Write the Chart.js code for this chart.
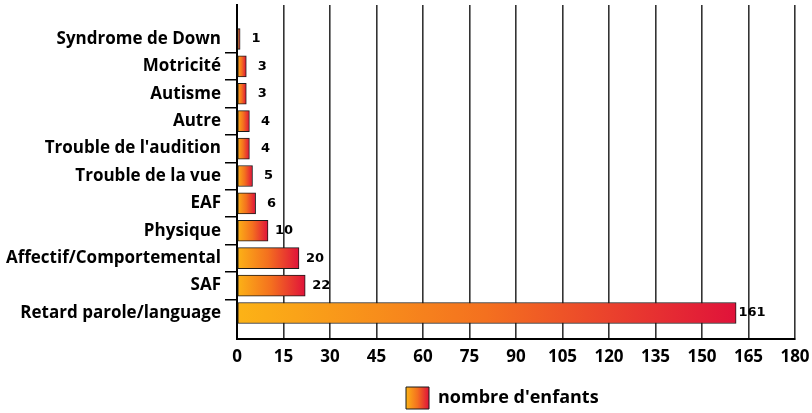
<!DOCTYPE html>
<html lang="fr">
<head>
<meta charset="utf-8">
<title>Nombre d'enfants par type de besoin</title>
<script src="https://cdn.jsdelivr.net/npm/chart.js@4.4.1/dist/chart.umd.min.js"></script>
<style>
    html, body { margin: 0; padding: 0; background: #fff; }
    #wrap { width: 812px; height: 413px; }
</style>
</head>
<body>
<div id="wrap"><canvas id="chart" width="812" height="413"></canvas></div>
<script>
// ===== Data =====
const categories = [
    'Syndrome de Down',
    'Motricité',
    'Autisme',
    'Autre',
    "Trouble de l'audition",
    'Trouble de la vue',
    'EAF',
    'Physique',
    'Affectif/Comportemental',
    'SAF',
    'Retard parole/language'
];
const enfants = [1, 3, 3, 4, 4, 5, 6, 10, 20, 22, 161];
const seriesLabel = "nombre d'enfants";
const xTicks = { min: 0, max: 180, step: 15 };

const FONT = "'Open Sans', 'DejaVu Sans', sans-serif";

// orange -> red fill, stretched over one bar
function fillGradient(ctx2d, x0, x1) {
    const g = ctx2d.createLinearGradient(x0, 0, x1, 0);
    g.addColorStop(0, '#fcb316');
    g.addColorStop(0.5, '#f4701f');
    g.addColorStop(1, '#e0123a');
    return g;
}

function barFill(context) {
    const chart = context.chart;
    const xScale = chart.scales.x;
    if (!chart.chartArea || !xScale || context.type !== 'data') return '#f4701f';
    const x0 = xScale.getPixelForValue(0);
    const x1 = xScale.getPixelForValue(context.parsed.x);
    return fillGradient(chart.ctx, x0, Math.max(x1, x0 + 1));
}

// ===== Value labels right of each bar =====
const valueLabels = {
    id: 'valueLabels',
    afterDatasetsDraw(chart) {
        const ctx = chart.ctx;
        const meta = chart.getDatasetMeta(0);
        ctx.save();
        ctx.font = "bold 13px 'DejaVu Sans', sans-serif";
        ctx.fillStyle = '#000';
        ctx.textAlign = 'center';
        ctx.textBaseline = 'middle';
        meta.data.forEach((bar, i) => {
            ctx.fillText(String(enfants[i]), bar.x + 16, bar.y);
        });
        ctx.restore();
    }
};

// ===== Legend placement + gradient swatch =====
const LEGEND_BOX_LEFT = 406;
const legendTweak = {
    id: 'legendTweak',
    afterLayout(chart) {
        const lg = chart.legend;
        if (!lg || !lg.lineWidths) return;
        const pad = lg.options.labels.padding;
        const startX = (lg.left + pad + lg.right - lg.lineWidths[0]) / 2;
        const dx = LEGEND_BOX_LEFT - startX;
        lg.left += dx; lg.right += dx;
        lg.top += 6; lg.bottom += 6;
    },
    beforeDraw(chart) {
        const lg = chart.legend;
        if (!lg || !lg.legendItems || !lg.legendHitBoxes || !lg.legendHitBoxes[0]) return;
        const hb = lg.legendHitBoxes[0];
        lg.legendItems[0].fillStyle = fillGradient(chart.ctx, hb.left, hb.left + 23);
    }
};

const chart = new Chart(document.getElementById('chart'), {
    type: 'bar',
    data: {
        datasets: [{
            label: seriesLabel,
            data: enfants.map((v, i) => ({ x: v, y: i })),
            backgroundColor: barFill,
            borderColor: '#1a1a1a',
            borderWidth: 1,
            borderSkipped: false,
            barThickness: 21
        }]
    },
    options: {
        indexAxis: 'y',
        responsive: false,
        animation: false,
        layout: { padding: { top: 5, right: 17, bottom: 0, left: 0 } },
        scales: {
            x: {
                type: 'linear',
                min: xTicks.min,
                max: xTicks.max,
                afterFit(scale) {
                    scale.height = 32;
                    scale.paddingLeft = 0;
                    scale.paddingRight = 0;
                },
                grid: { color: '#333', lineWidth: 1.6, drawTicks: false },
                border: { color: '#000', width: 2 },
                ticks: {
                    stepSize: xTicks.step,
                    color: '#000',
                    padding: 8,
                    font: { family: FONT, size: 17, weight: 'bold' }
                }
            },
            y: {
                type: 'linear',
                reverse: true,
                offset: false,
                min: -1.24,
                max: 10.95,
                afterFit(scale) {
                    scale.width = 237;
                    scale.paddingTop = 0;
                    scale.paddingBottom = 0;
                },
                afterBuildTicks(scale) {
                    scale.ticks = categories.map((_, i) => ({ value: i }));
                },
                grid: {
                    offset: true,
                    drawOnChartArea: false,
                    tickLength: 12,
                    lineWidth: 1.5,
                    // only the marks between two categories
                    color: c => (c.index > 0 ? '#000' : 'rgba(0,0,0,0)')
                },
                border: { color: '#000', width: 2 },
                ticks: {
                    color: '#000',
                    padding: 4,
                    autoSkip: false,
                    font: { family: FONT, size: 17, weight: 'bold' },
                    callback: value => categories[value]
                }
            }
        },
        plugins: {
            legend: {
                position: 'bottom',
                fullSize: false,
                labels: {
                    color: '#000',
                    boxWidth: 23,
                    boxHeight: 22,
                    padding: 10,
                    font: { family: FONT, size: 18, weight: 'bold' },
                    generateLabels: () => [{
                        text: seriesLabel,
                        fillStyle: '#f4701f',
                        strokeStyle: '#1a1a1a',
                        lineWidth: 1,
                        datasetIndex: 0
                    }]
                }
            },
            tooltip: { enabled: false }
        }
    },
    plugins: [valueLabels, legendTweak]
});
</script>
</body>
</html>
